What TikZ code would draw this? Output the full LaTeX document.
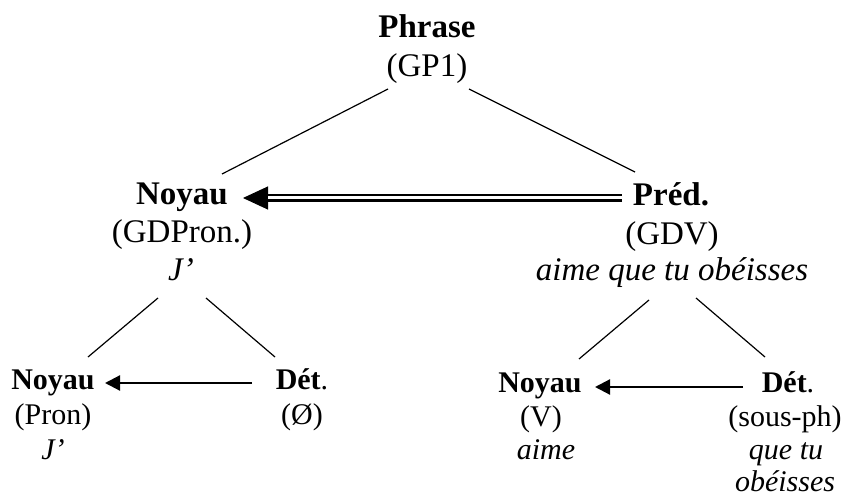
\documentclass[tikz,border=0pt]{standalone}
\usepackage{fontspec}
\setmainfont{Liberation Serif}
\usetikzlibrary{arrows.meta}
\tikzset{
  big/.style={anchor=base, inner sep=0pt, font=\fontsize{33}{38}\selectfont},
  small/.style={anchor=base, inner sep=0pt, font=\fontsize{30}{34}\selectfont},
  branch/.style={line width=1.2pt},
  simplearrow/.style={line width=2.2pt, -{Triangle[length=15pt,width=15pt]}},
  dblshaft/.style={double, double distance=3pt, line width=2.4pt},
  dblhead/.style={line width=1pt, -{Triangle[length=25pt,width=23pt]}},
}
\begin{document}
\begin{tikzpicture}[x=1pt,y=1pt]
\useasboundingbox[fill=white] (0,0) rectangle (846,-497);
% nodes
\node[big] (rt) at (427,-38) {\textbf{Phrase}};
\node[big] (rs) at (427,-77) {(GP1)};
\node[big] (n1t) at (182,-205) {\textbf{Noyau}};
\node[big] (n1s) at (182,-243) {(GDPron.)};
\node[big] (n1e) at (181,-280) {\textit{J’}};
\node[big] (p1t) at (671,-206) {\textbf{Préd.}};
\node[big] (p1s) at (672,-244) {(GDV)};
\node[big] (p1e) at (672,-280) {\textit{aime que tu obéisses}};
\node[small] (n2t) at (53,-389) {\textbf{Noyau}};
\node[small] (n2s) at (53,-424) {(Pron)};
\node[small] (n2e) at (53,-459) {\textit{J’}};
\node[small] (d2t) at (302,-389) {\textbf{Dét}.};
\node[small] (d2s) at (302,-424) {(Ø)};
\node[small] (n3t) at (540,-392) {\textbf{Noyau}};
\node[small] (n3s) at (541,-426) {(V)};
\node[small] (n3e) at (546,-459) {\textit{aime}};
\node[small] (d3t) at (788,-392) {\textbf{Dét}.};
\node[small] (d3s) at (785,-426) {(sous-ph)};
\node[small] (d3e) at (786,-459) {\textit{que tu}};
\node[small] (d3f) at (785,-491) {\textit{obéisses}};
% branches
\draw[branch] ([shift={(-39,-12)}]rs.base) -- ([shift={(40,31)}]n1t.base);
\draw[branch] ([shift={(42,-12)}]rs.base) -- ([shift={(-36,34)}]p1t.base);
\draw[branch] ([shift={(-23,-18)}]n1e.base) -- ([shift={(35,32)}]n2t.base);
\draw[branch] ([shift={(25,-18)}]n1e.base) -- ([shift={(-27,32)}]d2t.base);
\draw[branch] ([shift={(-23,-20)}]p1e.base) -- ([shift={(39,33)}]n3t.base);
\draw[branch] ([shift={(24,-18)}]p1e.base) -- ([shift={(-23,35)}]d3t.base);
% arrows
\draw[dblhead] ([shift={(-49,8)}]p1t.base) -- ([shift={(61,7)}]n1t.base);
\draw[dblshaft] ([shift={(-49,8)}]p1t.base) -- ([shift={(86,7)}]n1t.base);
\draw[simplearrow] ([shift={(-50,6)}]d2t.base) -- ([shift={(52,6)}]n2t.base);
\draw[simplearrow] ([shift={(-45,5)}]d3t.base) -- ([shift={(55,5)}]n3t.base);
\end{tikzpicture}
\end{document}
